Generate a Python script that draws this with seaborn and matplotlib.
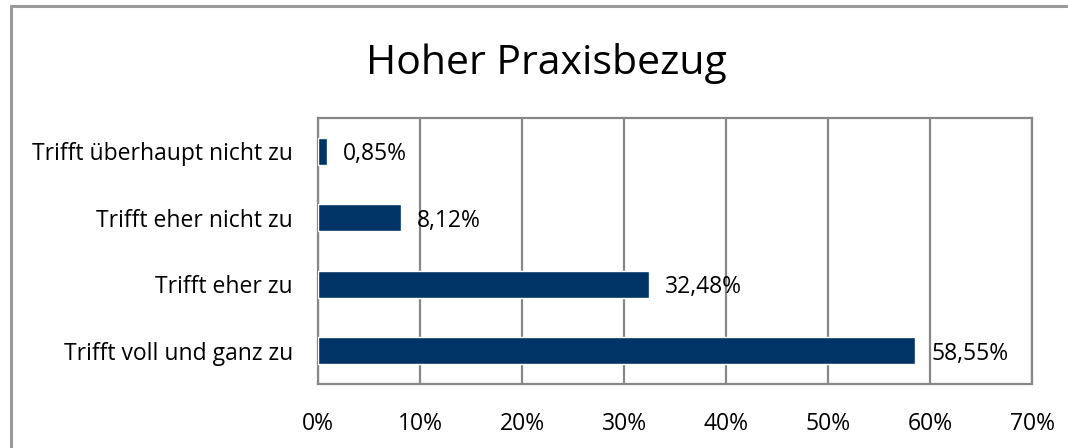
import numpy as np
import pandas as pd
import matplotlib
matplotlib.use("Agg")
import matplotlib.pyplot as plt
from matplotlib.lines import Line2D
from matplotlib.ticker import FuncFormatter
import seaborn as sns

# Antworten und Anteile (in %)
categories = ["Trifft überhaupt nicht zu", "Trifft eher nicht zu",
              "Trifft eher zu", "Trifft voll und ganz zu"]
shares = [0.85, 8.12, 32.48, 58.55]
title = "Hoher Praxisbezug"

df = pd.DataFrame({"Antwort": categories, "Anteil": shares})

sns.set_style("white")
plt.rcParams["font.family"] = ["Open Sans", "DejaVu Sans"]
plt.rcParams["text.color"] = "black"
plt.rcParams["xtick.color"] = "black"
plt.rcParams["ytick.color"] = "black"

fig = plt.figure(figsize=(10.68, 4.48), dpi=100)
ax = fig.add_axes([0.2978, 0.1429, 0.6685, 0.5937])

sns.barplot(data=df, x="Anteil", y="Antwort", color="#003366",
            width=0.4, saturation=1, ax=ax, zorder=3)

ax.set_xlim(0, 70)
ax.set_xticks(np.arange(0, 71, 10))
ax.xaxis.set_major_formatter(FuncFormatter(lambda v, p: f"{v:.0f}%"))
ax.grid(axis="x", color="#878787", linewidth=1.6, zorder=0)
ax.set_xlabel("")
ax.set_ylabel("")
ax.tick_params(axis="x", length=0, pad=20, labelsize=16.5)
ax.tick_params(axis="y", length=0, pad=18, labelsize=16.5)
for s in ax.spines.values():
    s.set_color("#878787")
    s.set_linewidth(1.6)

# Datenbeschriftungen rechts neben den Balken
for i, v in enumerate(shares):
    ax.annotate(f"{v:.2f}%".replace(".", ","), xy=(v, i), xytext=(11.5, -2),
                textcoords="offset points", va="center", ha="left",
                fontsize=16.5, color="black", zorder=4)

fig.text(0.512, 0.858, title, ha="center", va="center", fontsize=29.5)

# Rahmen des Diagramms (nur oben und links sichtbar)
fig.add_artist(Line2D([11 / 1068, 11 / 1068], [0, 1 - 6 / 448],
                      transform=fig.transFigure, color="#9a9a9a", linewidth=2.2))
fig.add_artist(Line2D([11 / 1068, 1], [1 - 6 / 448, 1 - 6 / 448],
                      transform=fig.transFigure, color="#9a9a9a", linewidth=2.2))

fig.savefig("out.png", dpi=100)
